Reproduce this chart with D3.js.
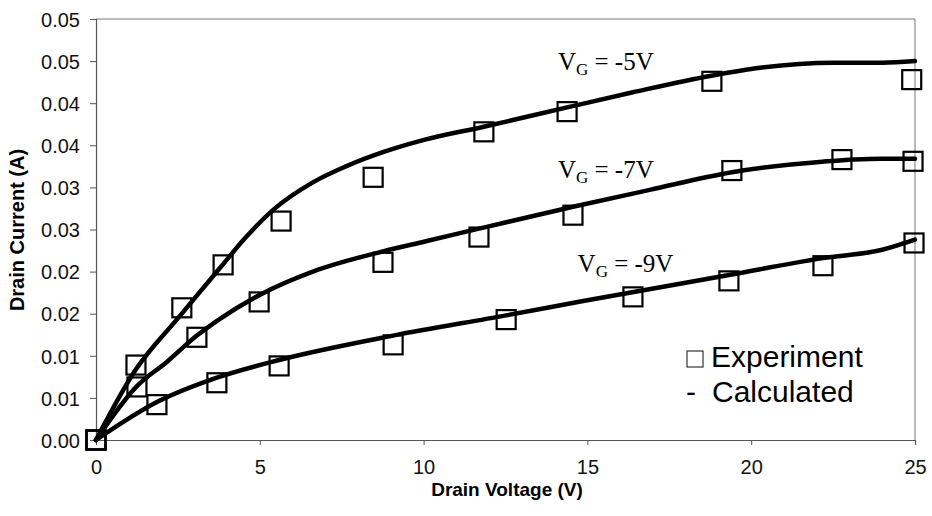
<!DOCTYPE html>
<html>
<head>
<meta charset="utf-8">
<script src="https://cdn.jsdelivr.net/npm/d3@7"></script>
<style>
	body{margin:0;background:#fff;}
	svg{display:block;}
</style>
</head>
<body>
<svg id="chart"></svg>
<script>
let _width = 932
let _height = 516
let _margin = {top:19, right:17, bottom:76, left:96}

// tick values + the (rounded) labels printed on the original
let yTicks = [0,0.005,0.01,0.015,0.02,0.025,0.03,0.035,0.04,0.045,0.05]
let yTickLabels = ['0.00','0.01','0.01','0.02','0.02','0.03','0.03','0.04','0.04','0.05','0.05']
let xTicks = [0,5,10,15,20,25]

// experiment (squares)
let exp5V = [0,1.22,2.62,3.88,5.65,8.46,11.84,14.38,18.80,24.9]
let exp5I = [0,0.0089,0.0157,0.0208,0.0260,0.0312,0.0366,0.0390,0.0426,0.0428]
let exp7V = [0,1.25,3.08,4.98,8.76,11.69,14.56,19.41,22.77,24.94]
let exp7I = [0,0.0063,0.0122,0.0164,0.0211,0.0241,0.0267,0.0320,0.0333,0.0331]
let exp9V = [0,1.86,3.69,5.59,9.07,12.52,16.39,19.32,22.19,24.97]
let exp9I = [0,0.0042,0.0068,0.0088,0.0113,0.0143,0.0170,0.0189,0.0207,0.0234]

// calculated (lines)
let calc5V = [0,1.22,2.53,3.82,4.58,5.40,6.62,7.63,8.85,10.07,11.84,14.38,16.39,18.83,20.27,22.5,24.0,25]
let calc5I = [0,0.0084,0.0146,0.0206,0.0241,0.0273,0.0306,0.0325,0.0343,0.0357,0.0372,0.0395,0.0413,0.0433,0.0442,0.0448,0.0448,0.0450]
let calc7V = [0,1.25,2.17,3.08,3.75,4.98,6.62,8.76,10.07,11.69,14.56,16.9,19.41,22.0,24.0,25]
let calc7I = [0,0.0064,0.0093,0.0124,0.0143,0.0172,0.0200,0.0224,0.0236,0.0251,0.0277,0.0297,0.0318,0.0330,0.0334,0.0334]
let calc9V = [0,1.86,3.69,5.59,9.07,12.52,14.87,19.32,22.19,24.0,25]
let calc9I = [0,0.0045,0.0074,0.0095,0.0124,0.0148,0.0165,0.0196,0.0216,0.0226,0.0238]

let vgNames = ['-5V','-7V','-9V']
let vgLabelAt = [[14.1,0.0439],[14.1,0.0311],[14.7,0.0200]]

const zip = (a,b)=>a.map((d,i)=>[d,b[i]])

const series = [
	{name:vgNames[0], exp:zip(exp5V,exp5I), calc:zip(calc5V,calc5I), lab:vgLabelAt[0]},
	{name:vgNames[1], exp:zip(exp7V,exp7I), calc:zip(calc7V,calc7I), lab:vgLabelAt[1]},
	{name:vgNames[2], exp:zip(exp9V,exp9I), calc:zip(calc9V,calc9I), lab:vgLabelAt[2]}
]

const w = _width - _margin.left - _margin.right
const h = _height - _margin.top - _margin.bottom

const x = d3.scaleLinear().domain([0,25]).range([0,w])
const y = d3.scaleLinear().domain([0,0.05]).range([h,0])

const svg = d3.select('#chart')
	.attr('width',_width)
	.attr('height',_height)
	.attr('font-family','Arial, "Liberation Sans", sans-serif')

const chart = svg.append('g')
	.attr('transform',`translate(${_margin.left},${_margin.top})`)

// frame top + right
chart.append('path')
	.attr('d',`M0,0H${w}V${h}`)
	.attr('fill','none')
	.attr('stroke','#777')
	.attr('stroke-width',1)

const yAxis = chart.append('g')
	.call(d3.axisLeft(y).tickValues(yTicks).tickSize(6).tickPadding(10)
		.tickFormat((d,i)=>yTickLabels[i]))
const xAxis = chart.append('g')
	.attr('transform',`translate(0,${h})`)
	.call(d3.axisBottom(x).tickValues(xTicks).tickSize(5).tickPadding(15))

;[yAxis,xAxis].forEach(a=>{
	a.selectAll('.domain').attr('stroke','#555').attr('stroke-width',1.2)
	a.selectAll('.tick line').attr('stroke','#555')
	a.selectAll('text').attr('font-size',20).attr('fill','#111')
})
yAxis.selectAll('text').attr('dy','0.36em')

// axis titles
svg.append('text')
	.attr('x',507)
	.attr('y',496)
	.attr('text-anchor','middle')
	.attr('font-weight','bold')
	.attr('font-size',19)
	.text('Drain Voltage (V)')

svg.append('text')
	.attr('transform',`translate(24,${230}) rotate(-90)`)
	.attr('text-anchor','middle')
	.attr('font-weight','bold')
	.attr('font-size',20)
	.text('Drain Current (A)')

const line = d3.line()
	.x(d=>x(d[0]))
	.y(d=>y(d[1]))
	.curve(d3.curveMonotoneX)

const box = 19

const grp = chart.selectAll('.vg')
	.data(series)
	.enter()
	.append('g')
	.classed('vg',true)

grp.append('path')
	.attr('d',d=>line(d.calc))
	.attr('fill','none')
	.attr('stroke','#000')
	.attr('stroke-width',4.5)
	.attr('stroke-linecap','round')

grp.selectAll('rect')
	.data(d=>d.exp)
	.enter()
	.append('rect')
	.attr('x',d=>x(d[0]) - box/2)
	.attr('y',d=>y(d[1]) - box/2)
	.attr('width',box)
	.attr('height',box)
	.attr('fill','none')
	.attr('stroke','#000')
	.attr('stroke-width',2.2)

// V_G labels
const lab = grp.append('text')
	.attr('x',d=>x(d.lab[0]))
	.attr('y',d=>y(d.lab[1]))
	.attr('font-family','"Liberation Serif", "Times New Roman", serif')
	.attr('font-size',25)
	.attr('fill','#000')
lab.append('tspan').text('V')
lab.append('tspan').attr('font-size',17).attr('dy',5).text('G')
lab.append('tspan').attr('dy',-5).text(d=>` = ${d.name}`)

// legend
const legend = svg.append('g')
legend.append('rect')
	.attr('x',687).attr('y',351)
	.attr('width',16).attr('height',16)
	.attr('fill','none')
	.attr('stroke','#333')
	.attr('stroke-width',1.2)
legend.append('text')
	.attr('x',711).attr('y',367)
	.attr('font-size',30)
	.text('Experiment')
legend.append('text')
	.attr('x',686).attr('y',402)
	.attr('font-size',30)
	.text('-')
legend.append('text')
	.attr('x',712).attr('y',402)
	.attr('font-size',30)
	.text('Calculated')
</script>
</body>
</html>
